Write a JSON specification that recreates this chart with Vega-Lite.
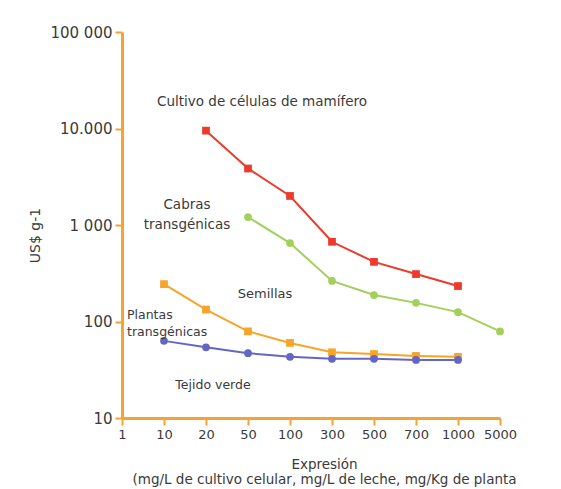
{
  "$schema": "https://vega.github.io/schema/vega-lite/v6.json",
  "autosize": "none",
  "width": 378,
  "height": 386,
  "padding": {"left": 122, "top": 32, "right": 61, "bottom": 71},
  "background": "#ffffff",
  "config": {
    "view": {"stroke": null},
    "font": "DejaVu Sans",
    "axis": {
      "grid": false,
      "domainColor": "#f6a332",
      "domainWidth": 3,
      "tickColor": "#f6a332",
      "tickWidth": 2,
      "tickSize": 7,
      "labelFont": "DejaVu Sans",
      "labelFontSize": 13,
      "labelColor": "#3a3a3a",
      "titleFont": "DejaVu Sans",
      "titleFontSize": 13.5,
      "titleFontWeight": "normal",
      "titleColor": "#3a3a3a"
    }
  },
  "datasets": {
    "series": [
      {"serie": "Cultivo de células de mamífero", "expr": "20", "usd": 9500},
      {"serie": "Cultivo de células de mamífero", "expr": "50", "usd": 3850},
      {"serie": "Cultivo de células de mamífero", "expr": "100", "usd": 2000},
      {"serie": "Cultivo de células de mamífero", "expr": "300", "usd": 670},
      {"serie": "Cultivo de células de mamífero", "expr": "500", "usd": 415},
      {"serie": "Cultivo de células de mamífero", "expr": "700", "usd": 310},
      {"serie": "Cultivo de células de mamífero", "expr": "1000", "usd": 233},
      {"serie": "Semillas", "expr": "50", "usd": 1210},
      {"serie": "Semillas", "expr": "100", "usd": 650},
      {"serie": "Semillas", "expr": "300", "usd": 263},
      {"serie": "Semillas", "expr": "500", "usd": 188},
      {"serie": "Semillas", "expr": "700", "usd": 156},
      {"serie": "Semillas", "expr": "1000", "usd": 125},
      {"serie": "Semillas", "expr": "5000", "usd": 79},
      {"serie": "Plantas transgénicas", "expr": "10", "usd": 244},
      {"serie": "Plantas transgénicas", "expr": "20", "usd": 133},
      {"serie": "Plantas transgénicas", "expr": "50", "usd": 79},
      {"serie": "Plantas transgénicas", "expr": "100", "usd": 60},
      {"serie": "Plantas transgénicas", "expr": "300", "usd": 48},
      {"serie": "Plantas transgénicas", "expr": "500", "usd": 46},
      {"serie": "Plantas transgénicas", "expr": "700", "usd": 44},
      {"serie": "Plantas transgénicas", "expr": "1000", "usd": 43},
      {"serie": "Tejido verde", "expr": "10", "usd": 63},
      {"serie": "Tejido verde", "expr": "20", "usd": 54},
      {"serie": "Tejido verde", "expr": "50", "usd": 47},
      {"serie": "Tejido verde", "expr": "100", "usd": 43},
      {"serie": "Tejido verde", "expr": "300", "usd": 41},
      {"serie": "Tejido verde", "expr": "500", "usd": 41},
      {"serie": "Tejido verde", "expr": "700", "usd": 40},
      {"serie": "Tejido verde", "expr": "1000", "usd": 40}
    ],
    "notes": [
      {"id": "cultivo", "text": "Cultivo de células de mamífero", "expr": "50", "usd": 18600},
      {"id": "cabras", "text": "Cabras\ntransgénicas", "expr": "20", "usd": 1610},
      {"id": "semillas", "text": "Semillas", "expr": "50", "usd": 193},
      {"id": "plantas", "text": "Plantas\ntransgénicas", "expr": "1", "usd": 118},
      {"id": "tejido", "text": "Tejido verde", "expr": "20", "usd": 22}
    ]
  },
  "encoding": {
    "x": {
      "field": "expr",
      "type": "ordinal",
      "scale": {"type": "point", "domain": ["1", "10", "20", "50", "100", "300", "500", "700", "1000", "5000"], "padding": 0},
      "axis": {
        "labelAngle": 0,
        "labelPadding": 3,
        "title": ["Expresión", "(mg/L de cultivo celular, mg/L de leche, mg/Kg de planta"],
        "titleX": 202,
        "titleY": 39,
        "titleAlign": "center",
        "titleBaseline": "top",
        "titleLineHeight": 15
      }
    },
    "y": {
      "field": "usd",
      "type": "quantitative",
      "scale": {"type": "log", "domain": [10, 100000], "nice": false},
      "axis": {
        "values": [10, 100, 1000, 10000, 100000],
        "labelExpr": "datum.value == 100000 ? '100 000' : datum.value == 10000 ? '10.000' : datum.value == 1000 ? '1 000' : datum.label",
        "labelFontSize": 15,
        "labelPadding": 3,
        "title": "US$ g-1",
        "titleFontSize": 14,
        "titleAngle": -90,
        "titleX": -87,
        "titleY": 203,
        "titleAlign": "center",
        "titleBaseline": "middle"
      }
    }
  },
  "layer": [
    {
      "data": {"name": "series"},
      "mark": {"type": "line", "strokeWidth": 2},
      "encoding": {
        "color": {
          "field": "serie",
          "type": "nominal",
          "scale": {"domain": ["Cultivo de células de mamífero", "Semillas", "Plantas transgénicas", "Tejido verde"], "range": ["#ec3a2c", "#a3d05a", "#f7a528", "#6466c6"]},
          "legend": null
        }
      }
    },
    {
      "data": {"name": "series"},
      "mark": {"type": "point", "filled": true, "size": 60, "opacity": 1},
      "encoding": {
        "color": {"field": "serie", "type": "nominal", "legend": null},
        "shape": {
          "field": "serie",
          "type": "nominal",
          "scale": {"domain": ["Cultivo de células de mamífero", "Semillas", "Plantas transgénicas", "Tejido verde"], "range": ["square", "circle", "square", "circle"]},
          "legend": null
        }
      }
    },
    {
      "data": {"name": "notes"},
      "transform": [{"filter": "datum.id == 'cultivo'"}],
      "mark": {"type": "text", "fontSize": 13.5, "color": "#3a3a3a", "align": "center", "baseline": "middle", "dx": 14},
      "encoding": {"text": {"field": "text"}}
    },
    {
      "data": {"name": "notes"},
      "transform": [{"filter": "datum.id == 'cabras'"}],
      "mark": {"type": "text", "fontSize": 13.5, "color": "#3a3a3a", "align": "center", "baseline": "middle", "dx": -19, "lineBreak": "\n", "lineHeight": 20},
      "encoding": {"text": {"field": "text"}}
    },
    {
      "data": {"name": "notes"},
      "transform": [{"filter": "datum.id == 'semillas'"}],
      "mark": {"type": "text", "fontSize": 13, "color": "#3a3a3a", "align": "center", "baseline": "middle", "dx": 17},
      "encoding": {"text": {"field": "text"}}
    },
    {
      "data": {"name": "notes"},
      "transform": [{"filter": "datum.id == 'plantas'"}],
      "mark": {"type": "text", "fontSize": 12.5, "color": "#3a3a3a", "align": "left", "baseline": "middle", "dx": 5, "lineBreak": "\n", "lineHeight": 17},
      "encoding": {"text": {"field": "text"}}
    },
    {
      "data": {"name": "notes"},
      "transform": [{"filter": "datum.id == 'tejido'"}],
      "mark": {"type": "text", "fontSize": 12.5, "color": "#3a3a3a", "align": "center", "baseline": "middle", "dx": 7},
      "encoding": {"text": {"field": "text"}}
    }
  ]
}
